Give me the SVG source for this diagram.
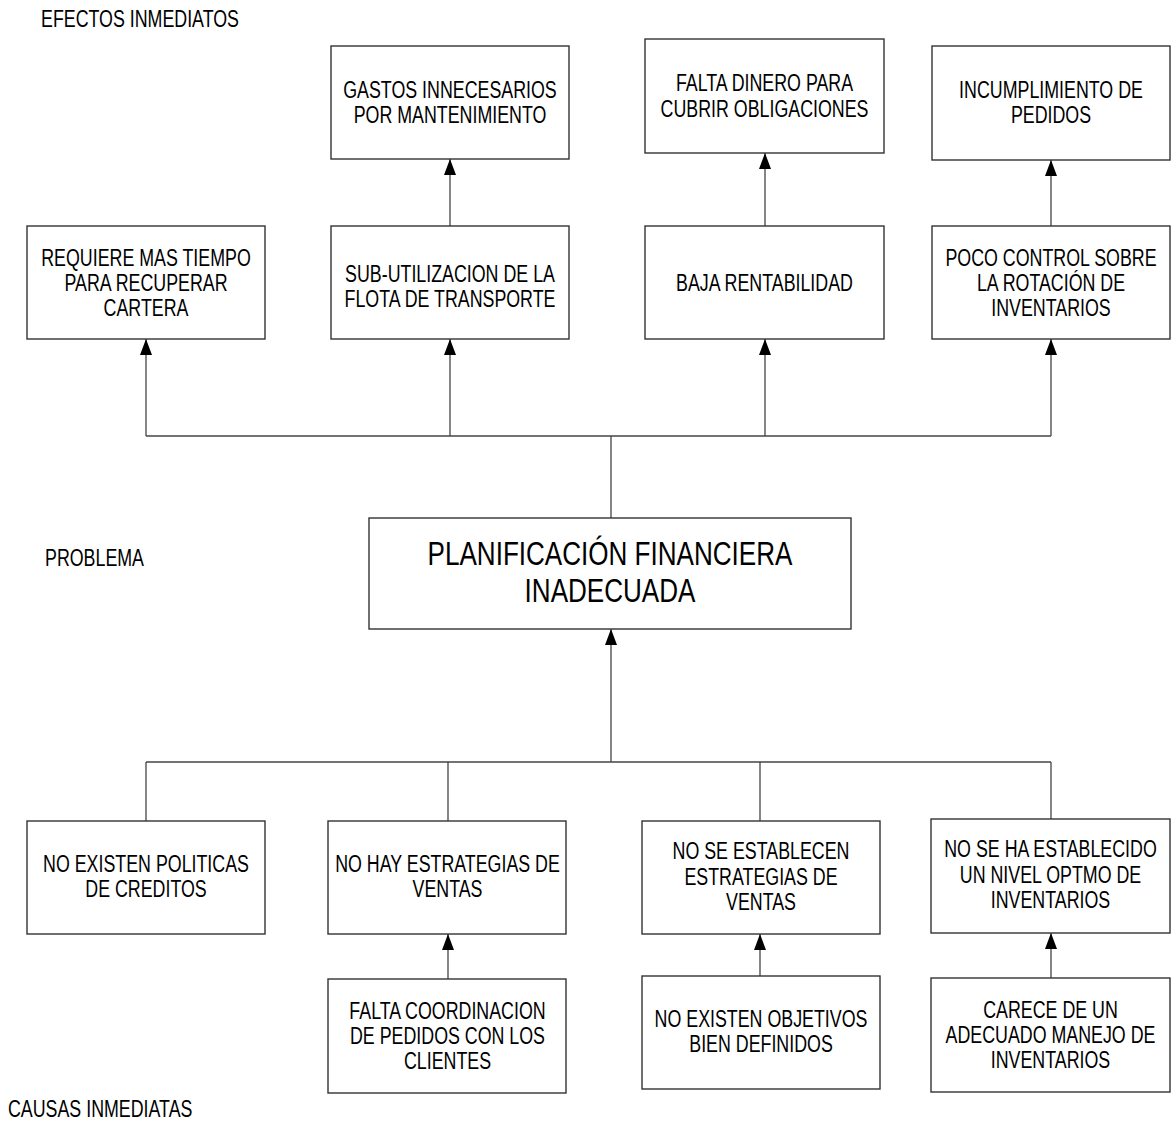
<svg xmlns="http://www.w3.org/2000/svg" width="1171" height="1123" viewBox="0 0 1171 1123">
<style>
  .box { fill: #ffffff; stroke: #333333; stroke-width: 1.4; }
  .t { font-family: "Liberation Sans", Arial, sans-serif; font-size: 23px; fill: #000000; text-anchor: middle; }
  .lbl { font-family: "Liberation Sans", Arial, sans-serif; font-size: 23px; fill: #000000; text-anchor: start; }
  .big { font-family: "Liberation Sans", Arial, sans-serif; font-size: 33px; fill: #000000; text-anchor: middle; }
  .ln { fill: none; stroke: #444444; stroke-width: 1.3; }
  .ar { fill: none; stroke: #444444; stroke-width: 1.3; marker-end: url(#ah); }
</style>
<defs>
  <marker id="ah" markerUnits="userSpaceOnUse" markerWidth="17" markerHeight="13" refX="16" refY="6" orient="auto">
    <path d="M0,0 L16,6 L0,12 z" fill="#000000"/>
  </marker>
</defs>
<rect width="1171" height="1123" fill="#ffffff"/>

<g id="labels">
  <text class="lbl" transform="translate(41 0) scale(0.775 1)" x="0" y="27">EFECTOS INMEDIATOS</text>
  <text class="lbl" transform="translate(45 0) scale(0.775 1)" x="0" y="566">PROBLEMA</text>
  <text class="lbl" transform="translate(8 0) scale(0.775 1)" x="0" y="1117">CAUSAS INMEDIATAS</text>
</g>

<g id="connectors">
  <path class="ar" d="M450,226 V159"/>
  <path class="ar" d="M765,226 V153"/>
  <path class="ar" d="M1051,226 V160"/>
  <path class="ln" d="M146,436 H1051"/>
  <path class="ln" d="M611,518 V436"/>
  <path class="ar" d="M146,436 V339"/>
  <path class="ar" d="M450,436 V339"/>
  <path class="ar" d="M765,436 V339"/>
  <path class="ar" d="M1051,436 V339"/>
  <path class="ar" d="M611,762 V629"/>
  <path class="ln" d="M146,762 H1051"/>
  <path class="ln" d="M146,762 V821"/>
  <path class="ln" d="M448,762 V821"/>
  <path class="ln" d="M760,762 V821"/>
  <path class="ln" d="M1051,762 V819"/>
  <path class="ar" d="M448,979 V934"/>
  <path class="ar" d="M760,976 V934"/>
  <path class="ar" d="M1051,978 V933"/>
</g>

<g id="e1">
  <rect class="box" x="331" y="46" width="238" height="113"/>
  <g transform="translate(450 0) scale(0.775 1)"><text class="t" x="0" y="98">GASTOS INNECESARIOS</text><text class="t" x="0" y="123">POR MANTENIMIENTO</text></g>
</g>
<g id="e2">
  <rect class="box" x="645" y="39" width="239" height="114"/>
  <g transform="translate(764.5 0) scale(0.775 1)"><text class="t" x="0" y="91.5">FALTA DINERO PARA</text><text class="t" x="0" y="116.7">CUBRIR OBLIGACIONES</text></g>
</g>
<g id="e3">
  <rect class="box" x="932" y="46" width="238" height="114"/>
  <g transform="translate(1051 0) scale(0.775 1)"><text class="t" x="0" y="97.7">INCUMPLIMIENTO DE</text><text class="t" x="0" y="123.3">PEDIDOS</text></g>
</g>

<g id="m1">
  <rect class="box" x="27" y="226" width="238" height="113"/>
  <g transform="translate(146 0) scale(0.775 1)"><text class="t" x="0" y="265.7">REQUIERE MAS TIEMPO</text><text class="t" x="0" y="291.5">PARA RECUPERAR</text><text class="t" x="0" y="316.5">CARTERA</text></g>
</g>
<g id="m2">
  <rect class="box" x="331" y="226" width="238" height="113"/>
  <g transform="translate(450 0) scale(0.775 1)"><text class="t" x="0" y="282.5">SUB-UTILIZACION DE LA</text><text class="t" x="0" y="307">FLOTA DE TRANSPORTE</text></g>
</g>
<g id="m3">
  <rect class="box" x="645" y="226" width="239" height="113"/>
  <g transform="translate(764.5 0) scale(0.775 1)"><text class="t" x="0" y="291.5">BAJA RENTABILIDAD</text></g>
</g>
<g id="m4">
  <rect class="box" x="932" y="226" width="238" height="113"/>
  <g transform="translate(1051 0) scale(0.775 1)"><text class="t" x="0" y="266.5">POCO CONTROL SOBRE</text><text class="t" x="0" y="291.5">LA ROTACIÓN DE</text><text class="t" x="0" y="316">INVENTARIOS</text></g>
</g>

<g id="problem">
  <rect class="box" x="369" y="518" width="482" height="111"/>
  <g transform="translate(610 0) scale(0.79 1)"><text class="big" x="0" y="565">PLANIFICACIÓN FINANCIERA</text><text class="big" x="0" y="602.5">INADECUADA</text></g>
</g>

<g id="c1">
  <rect class="box" x="27" y="821" width="238" height="113"/>
  <g transform="translate(146 0) scale(0.775 1)"><text class="t" x="0" y="871.7">NO EXISTEN POLITICAS</text><text class="t" x="0" y="896.7">DE CREDITOS</text></g>
</g>
<g id="c2">
  <rect class="box" x="328" y="821" width="238" height="113"/>
  <g transform="translate(447.5 0) scale(0.775 1)"><text class="t" x="0" y="871.7">NO HAY ESTRATEGIAS DE</text><text class="t" x="0" y="896.7">VENTAS</text></g>
</g>
<g id="c3">
  <rect class="box" x="642" y="821" width="238" height="113"/>
  <g transform="translate(761 0) scale(0.775 1)"><text class="t" x="0" y="859.5">NO SE ESTABLECEN</text><text class="t" x="0" y="885">ESTRATEGIAS DE</text><text class="t" x="0" y="910">VENTAS</text></g>
</g>
<g id="c4">
  <rect class="box" x="931" y="819" width="239" height="114"/>
  <g transform="translate(1050.5 0) scale(0.775 1)"><text class="t" x="0" y="857">NO SE HA ESTABLECIDO</text><text class="t" x="0" y="882.7">UN NIVEL OPTMO DE</text><text class="t" x="0" y="908.3">INVENTARIOS</text></g>
</g>

<g id="d1">
  <rect class="box" x="328" y="979" width="238" height="114"/>
  <g transform="translate(447.5 0) scale(0.775 1)"><text class="t" x="0" y="1019">FALTA COORDINACION</text><text class="t" x="0" y="1044.5">DE PEDIDOS CON LOS</text><text class="t" x="0" y="1069.5">CLIENTES</text></g>
</g>
<g id="d2">
  <rect class="box" x="642" y="976" width="238" height="113"/>
  <g transform="translate(761 0) scale(0.775 1)"><text class="t" x="0" y="1027.5">NO EXISTEN OBJETIVOS</text><text class="t" x="0" y="1052">BIEN DEFINIDOS</text></g>
</g>
<g id="d3">
  <rect class="box" x="931" y="978" width="239" height="114"/>
  <g transform="translate(1050.5 0) scale(0.775 1)"><text class="t" x="0" y="1018.5">CARECE DE UN</text><text class="t" x="0" y="1043.5">ADECUADO MANEJO DE</text><text class="t" x="0" y="1068.5">INVENTARIOS</text></g>
</g>
</svg>
